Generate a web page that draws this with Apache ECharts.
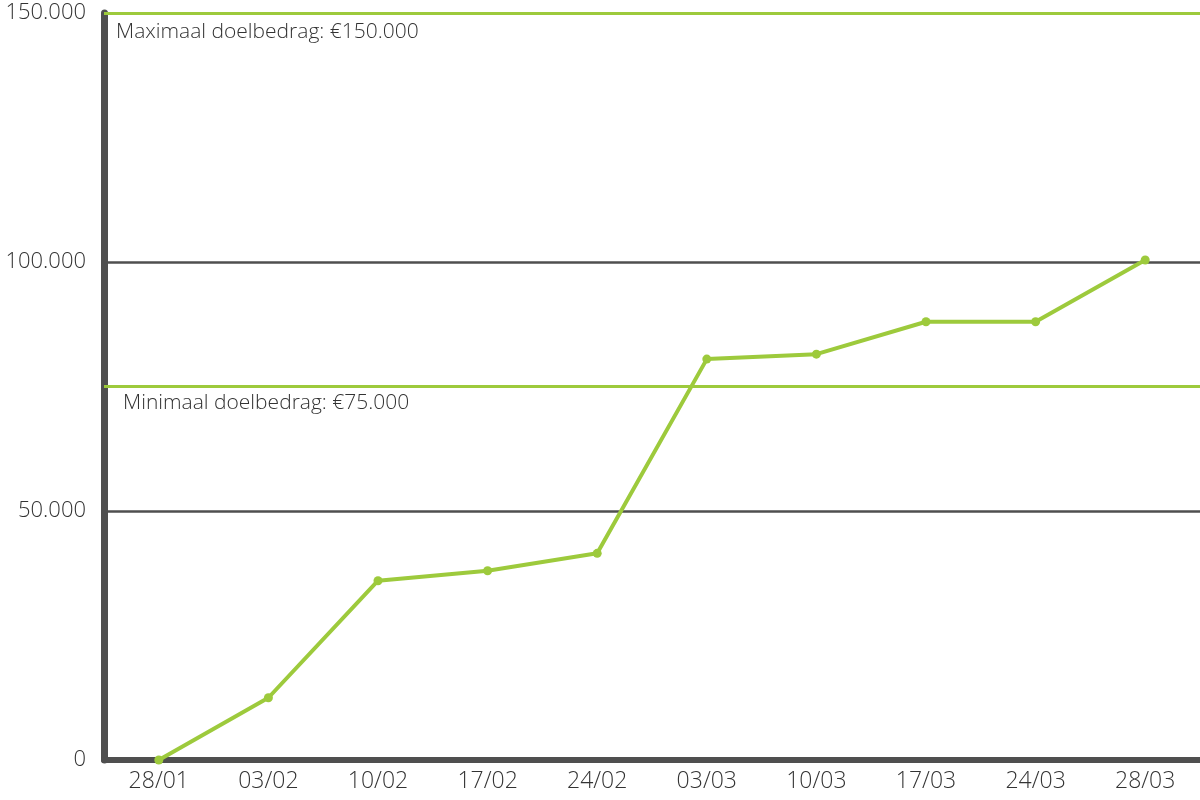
<!DOCTYPE html>
<html>
<head>
<meta charset="utf-8">
<script src="https://cdn.jsdelivr.net/npm/echarts@6/dist/echarts.min.js"></script>
<style>html,body{margin:0;padding:0;background:#fff}#c{width:1200px;height:800px}</style>
</head>
<body>
<div id="c"></div>
<script>
const categories = ['28/01','03/02','10/02','17/02','24/02','03/03','10/03','17/03','24/03','28/03'];
const raised = [0, 12500, 36000, 38000, 41500, 80500, 81500, 88000, 88000, 100400];
const yTicks = [0, 50000, 100000, 150000];
const targets = [
  {name: 'Minimaal doelbedrag', value: 75000},
  {name: 'Maximaal doelbedrag', value: 150000}
];
const fmt = v => String(v).replace(/\B(?=(\d{3})+(?!\d))/g, '.');
const green = '#9dca3c';
const dark = '#4f4f4f';
const font = "'Open Sans', 'Noto Sans', sans-serif";

const chart = echarts.init(document.getElementById('c'));
chart.setOption({
  animation: false,
  grid: {left: 104, right: 0, top: 13, bottom: 40, containLabel: false},
  xAxis: {
    type: 'category',
    data: categories,
    boundaryGap: true,
    axisLine: {show: true, lineStyle: {color: dark, width: 6}},
    axisTick: {show: false},
    axisLabel: {color: '#333', fontSize: 23, fontFamily: font, fontWeight: 300, margin: 10},
    splitLine: {show: false}
  },
  yAxis: {
    type: 'value',
    min: yTicks[0],
    max: yTicks[yTicks.length - 1],
    interval: 50000,
    axisLine: {show: true, lineStyle: {color: dark, width: 7}},
    axisTick: {show: false},
    axisLabel: {color: '#333', fontSize: 22, fontFamily: font, fontWeight: 300, margin: 18, formatter: v => fmt(v)},
    splitLine: {show: true, lineStyle: {color: dark, width: 2.5}}
  },
  series: [{
    type: 'line',
    data: raised,
    color: green,
    lineStyle: {color: green, width: 4},
    itemStyle: {color: green},
    symbol: 'circle',
    symbolSize: 9,
    z: 5,
    markLine: {
      silent: true,
      symbol: 'none',
      lineStyle: {color: green, width: 3, type: 'solid'},
      label: {
        position: 'insideStartBottom',
        color: '#333',
        fontSize: 21,
        fontFamily: font,
        fontWeight: 300,
        formatter: p => p.name + ': €' + fmt(p.value)
      },
      data: targets.map((t, i) => ({
        name: t.name,
        yAxis: t.value,
        label: {distance: i === 0 ? [19, 6] : [12, 9]}
      }))
    }
  }]
});
</script>
</body>
</html>
